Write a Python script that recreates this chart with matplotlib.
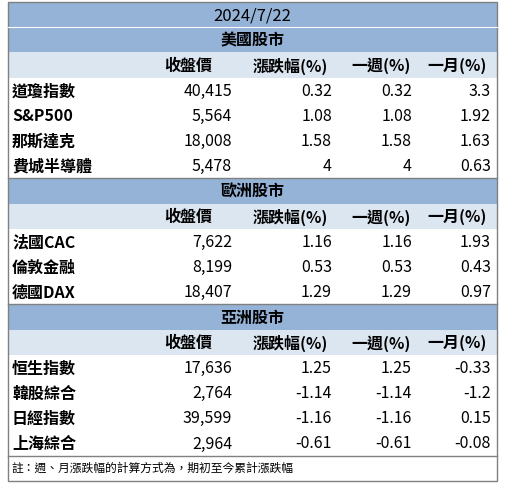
import matplotlib
matplotlib.use("Agg")
import matplotlib.pyplot as plt
from matplotlib.patches import Rectangle

plt.rcParams['font.family'] = ['Noto Sans CJK TC', 'DejaVu Sans']

title = "2024/7/22"
headers = ["收盤價", "漲跌幅(%)", "一週(%)", "一月(%)"]
sections = ["美國股市", "歐洲股市", "亞洲股市"]
names = [["道瓊指數", "S&P500", "那斯達克", "費城半導體"],
         ["法國CAC", "倫敦金融", "德國DAX"],
         ["恒生指數", "韓股綜合", "日經指數", "上海綜合"]]
close = [["40,415", "5,564", "18,008", "5,478"],
         ["7,622", "8,199", "18,407"],
         ["17,636", "2,764", "39,599", "2,964"]]
chg = [["0.32", "1.08", "1.58", "4"],
       ["1.16", "0.53", "1.29"],
       ["1.25", "-1.14", "-1.16", "-0.61"]]
week = [["0.32", "1.08", "1.58", "4"],
        ["1.16", "0.53", "1.29"],
        ["1.25", "-1.14", "-1.16", "-0.61"]]
month = [["3.3", "1.92", "1.63", "0.63"],
         ["1.93", "0.43", "0.97"],
         ["-0.33", "-1.2", "0.15", "-0.08"]]
note = "註：週、月漲跌幅的計算方式為，期初至今累計漲跌幅"

fig = plt.figure(figsize=(5.10, 4.89), dpi=100)
ax = fig.add_axes([0, 0, 1, 1])
ax.set_xlim(0, 510); ax.set_ylim(489, 0); ax.axis('off')

L, R = 8, 497
blue = "#95B3D7"; light = "#DCE6F1"; grey = "#808080"
rh = 25.2
fs = 11.5
hdr_x = [188, 290, 381, 457]
val_x = [232, 332, 412, 491]

y = 3
def band(y, color):
    ax.add_patch(Rectangle((L, y), R - L, rh, facecolor=color, edgecolor='none'))

band(y, blue)
ax.text((L + R) / 2, y + rh / 2, title, ha='center', va='center', fontsize=fs + 0.5)
y += rh
ax.plot([L, R], [y, y], color='white', lw=0.8)
for si, sec in enumerate(sections):
    if si > 0:
        ax.plot([L, R], [y, y], color=grey, lw=1)
    band(y, blue)
    ax.text((L + R) / 2, y + rh / 2, sec, ha='center', va='center', fontsize=fs, fontweight='bold')
    y += rh
    band(y, light)
    for hx, h in zip(hdr_x, headers):
        ax.text(hx, y + rh / 2, h, ha='center', va='center', fontsize=fs, fontweight='bold')
    y += rh
    for i, n in enumerate(names[si]):
        cy = y + rh / 2
        ax.text(12, cy, n, ha='left', va='center', fontsize=fs, fontweight='bold')
        for vx, col in zip(val_x, [close, chg, week, month]):
            ax.text(vx, cy, col[si][i], ha='right', va='center', fontsize=fs)
        y += rh
ax.plot([L, R], [y, y], color=grey, lw=1)
ax.text(12, y + 12, note, ha='left', va='center', fontsize=8.5)
bottom = y + 25
ax.add_patch(Rectangle((L, 3), R - L, bottom - 3, facecolor='none', edgecolor=grey, lw=1))

fig.savefig("out.png", dpi=100)
